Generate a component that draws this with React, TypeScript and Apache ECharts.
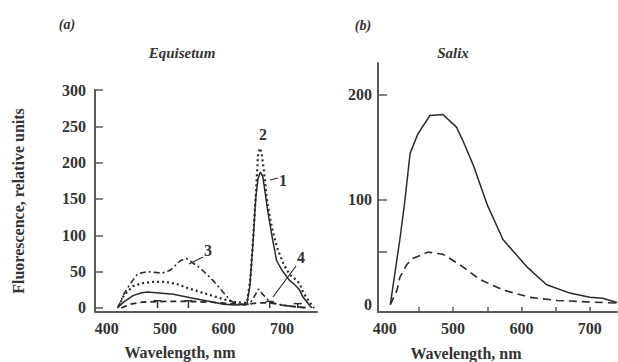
import React, { useEffect, useRef } from "react";
import * as echarts from "echarts";

// ---- Data: panel (a) Equisetum, [wavelength nm, fluorescence] ----
const eqCurve1: number[][] = [
  [418, 0], [429, 8], [445, 17], [460, 21], [470, 22], [514, 19], [531, 16], [543, 14],
  [577, 9], [600, 5], [620, 4], [640, 5], [645, 30], [650, 84], [655, 150], [659, 178],
  [663, 187], [667, 182], [671, 160], [676, 132], [684, 94], [691, 65], [700, 52],
  [713, 38], [722, 32], [730, 25], [736, 15], [742, 9], [751, 0],
];
const eqCurve2: number[][] = [
  [420, 2], [430, 18], [445, 30], [460, 34], [480, 36], [500, 36], [520, 33], [540, 27],
  [560, 22], [580, 17], [600, 12], [620, 8], [640, 7], [646, 40], [651, 100], [656, 165],
  [659, 210], [662, 220], [665, 214], [669, 190], [674, 150], [680, 122], [686, 100],
  [693, 80], [702, 62], [713, 46], [722, 40], [730, 34], [736, 22], [742, 14], [748, 7],
  [755, 0],
];
const eqCurve3: number[][] = [
  [419, 0], [430, 20], [441, 34], [453, 47], [470, 50], [495, 48], [509, 52], [526, 65],
  [537, 68], [560, 55], [582, 38], [599, 22], [611, 11], [620, 6], [635, 4], [645, 6],
  [652, 15], [660, 26], [668, 18], [680, 8], [700, 4], [720, 2], [740, 0],
];
const eqCurve4: number[][] = [
  [425, 0], [440, 5], [460, 8], [500, 9], [540, 9], [580, 8], [610, 6], [640, 5],
  [660, 7], [680, 7], [700, 4], [720, 2], [745, 0],
];
// error bars on curve 4: [wavelength, low, high]
const eqCurve4Err: number[][] = [
  [487, 0, 10], [540, 0, 10], [679, 0, 9], [727, 0, 6],
];

// ---- Data: panel (b) Salix ----
const salixSolid: number[][] = [
  [408, 0], [422, 62], [429, 97], [437, 144], [448, 162], [466, 180], [485, 181],
  [505, 169], [515, 155], [530, 132], [550, 95], [573, 62], [608, 36], [637, 19],
  [671, 11], [700, 7], [719, 6], [740, 2],
];
const salixDashed: number[][] = [
  [408, 0], [418, 14], [422, 26], [432, 38], [441, 44], [463, 50], [485, 48], [510, 38],
  [539, 24], [573, 14], [612, 7], [652, 4], [700, 2.5], [740, 1.5],
];

// ---- Tick labels ----
const eqXLabels = [400, 500, 600, 700];
const eqYLabels = [0, 50, 100, 150, 200, 250, 300];
const saXLabels = [400, 500, 600, 700];
const saXTicks = [450, 500, 550, 600, 650, 700];
const saYLabels = [0, 100, 200];
const saYTicks = [50, 100, 200];

const INK = "#2a2a2a";
const AXIS = "#5a5a5a";
const FONT = "Liberation Serif";

export default function App() {
  const ref = useRef<HTMLDivElement>(null);
  useEffect(() => {
    if (!ref.current) return;
    const chart = echarts.init(ref.current, undefined, { renderer: "svg" });
    const labelStyle = { fontFamily: FONT, fontWeight: "bold", fontSize: 16, color: "#333" };
    const axisLine = { onZero: false, lineStyle: { color: AXIS, width: 2 } };
    const lineS = (name: string, data: number[][], idx: number, type: any, width: number) => ({
      name,
      type: "line",
      data,
      xAxisIndex: idx,
      yAxisIndex: idx,
      symbol: "none",
      smooth: false,
      lineStyle: { color: INK, width, type },
      z: 3,
    });
    const txt = (x: number, y: number, text: string, size: number, italic = false, extra: any = {}) => ({
      type: "text",
      x,
      y,
      style: {
        text,
        fontFamily: FONT,
        fontWeight: "bold",
        fontStyle: italic ? "italic" : "normal",
        fontSize: size,
        fill: "#333",
        align: "center",
        verticalAlign: "middle",
      },
      ...extra,
    });
    const ln = (x1: number, y1: number, x2: number, y2: number) => ({
      type: "line",
      shape: { x1, y1, x2, y2 },
      style: { stroke: INK, lineWidth: 1.2 },
    });
    chart.setOption({
      animation: false,
      backgroundColor: "#fff",
      grid: [
        { left: 95, top: 90, width: 222, height: 221.6 },
        { left: 378, top: 63, width: 239, height: 249 },
      ],
      xAxis: [
        {
          type: "value", gridIndex: 0, min: 380, max: 760,
          axisLine, splitLine: { show: false },
          axisTick: { show: false },
          axisLabel: { ...labelStyle, margin: 9, customValues: eqXLabels },
        },
        {
          type: "value", gridIndex: 1, min: 390, max: 740,
          axisLine, splitLine: { show: false },
          axisTick: { show: true, inside: true, length: 5, customValues: saXTicks, lineStyle: { color: AXIS, width: 1.5 } },
          axisLabel: { ...labelStyle, margin: 8, customValues: saXLabels },
        },
      ],
      yAxis: [
        {
          type: "value", gridIndex: 0, min: -5, max: 300,
          axisLine, splitLine: { show: false },
          axisTick: { show: true, inside: true, length: 8, customValues: eqYLabels, lineStyle: { color: AXIS, width: 1.5 } },
          axisLabel: { ...labelStyle, margin: 9, customValues: eqYLabels },
        },
        {
          type: "value", gridIndex: 1, min: -7, max: 230,
          axisLine, splitLine: { show: false },
          axisTick: { show: true, inside: true, length: 9, customValues: saYTicks, lineStyle: { color: AXIS, width: 1.5 } },
          axisLabel: { ...labelStyle, margin: 6, customValues: saYLabels },
        },
      ],
      series: [
        lineS("1", eqCurve1, 0, "solid", 1.5),
        lineS("2", eqCurve2, 0, [2, 3], 2.2),
        lineS("3", eqCurve3, 0, [6, 3, 2, 3], 1.6),
        lineS("4", eqCurve4, 0, [6, 4], 1.8),
        {
          name: "4 error",
          type: "custom",
          xAxisIndex: 0,
          yAxisIndex: 0,
          data: eqCurve4Err,
          z: 4,
          renderItem: (params: any, api: any) => {
            const top = api.coord([api.value(0), api.value(2)]);
            const bot = api.coord([api.value(0), api.value(1)]);
            const st = { stroke: INK, lineWidth: 1.4 };
            return {
              type: "group",
              children: [
                { type: "line", shape: { x1: top[0], y1: top[1], x2: bot[0], y2: bot[1] }, style: st },
                { type: "line", shape: { x1: top[0] - 4, y1: top[1], x2: top[0] + 4, y2: top[1] }, style: st },
              ],
            };
          },
        },
        lineS("Salix solid", salixSolid, 1, "solid", 1.5),
        lineS("Salix dashed", salixDashed, 1, [8, 5], 1.6),
      ],
      graphic: [
        txt(67, 24, "(a)", 14, true),
        txt(182, 53, "Equisetum", 15, true),
        txt(363, 25, "(b)", 14, true),
        txt(453, 53, "Salix", 15, true),
        txt(180, 352, "Wavelength, nm", 16),
        txt(466, 353, "Wavelength, nm", 16),
        txt(18, 201, "Fluorescence, relative units", 16, false, { rotation: Math.PI / 2 }),
        txt(283, 180, "1", 16),
        txt(263, 134, "2", 16),
        txt(208, 250, "3", 16),
        txt(301, 257, "4", 16),
        ln(270, 180, 278, 178),
        ln(203, 257, 189, 264),
        ln(296, 266, 273, 297),
      ],
    });
    return () => chart.dispose();
  }, []);
  return (
    <div
      ref={ref}
      style={{ position: "fixed", left: 0, top: 0, width: 618, height: 362, background: "#fff" }}
    />
  );
}
